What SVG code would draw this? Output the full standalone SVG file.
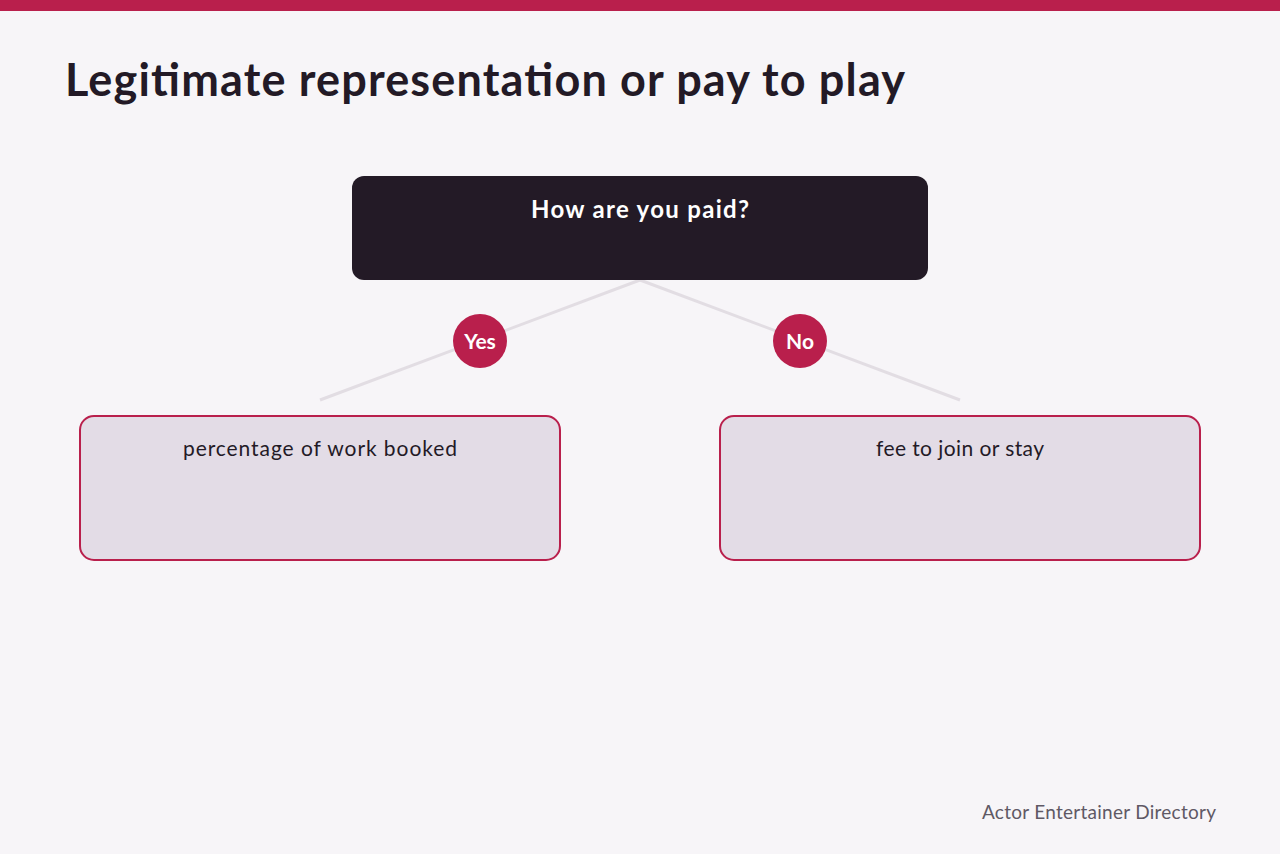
<svg xmlns="http://www.w3.org/2000/svg" width="1280" height="854" viewBox="0 0 1280 854">
<style>
.title{font-family:Lato,"Noto Sans",sans-serif;font-weight:700;font-size:45px;fill:#231a26}
.q{font-family:Lato,"Noto Sans",sans-serif;font-weight:700;font-size:24px;fill:#ffffff}
.badge{fill:#b91f4c}
.badgetxt{font-family:Lato,"Noto Sans",sans-serif;font-weight:700;font-size:21px;fill:#ffffff}
.ans{fill:#e3dce6;stroke:#b91f4c;stroke-width:2}
.anstxt{font-family:Lato,"Noto Sans",sans-serif;font-size:21px;fill:#231a26}
.conn{stroke:#e2dde3;stroke-width:3;fill:none}
.foot{font-family:Lato,"Noto Sans",sans-serif;font-size:19px;fill:#5f5965}
</style>
<rect x="0" y="0" width="1280" height="854" fill="#f7f5f8"/>
<rect x="0" y="0" width="1280" height="11" fill="#b91f4c"/>
<text class="title" x="65" y="96" textLength="840" lengthAdjust="spacing">Legitimate representation or pay to play</text>
<g id="connectors">
<line class="conn" x1="640" y1="280" x2="320" y2="400"/>
<line class="conn" x1="640" y1="280" x2="960" y2="400"/>
</g>
<g id="question">
<rect x="352" y="176" width="576" height="104" rx="12" fill="#231a26"/>
<text class="q" x="531" y="218" textLength="218" lengthAdjust="spacing">How are you paid?</text>
</g>
<g id="label-yes">
<circle class="badge" cx="480" cy="341" r="27"/>
<text class="badgetxt" x="480" y="348.5" text-anchor="middle">Yes</text>
</g>
<g id="label-no">
<circle class="badge" cx="800" cy="341" r="27"/>
<text class="badgetxt" x="800" y="348.5" text-anchor="middle">No</text>
</g>
<g id="answer-yes">
<rect class="ans" x="80" y="416" width="480" height="144" rx="14"/>
<text class="anstxt" x="183" y="456" textLength="274" lengthAdjust="spacing">percentage of work booked</text>
</g>
<g id="answer-no">
<rect class="ans" x="720" y="416" width="480" height="144" rx="14"/>
<text class="anstxt" x="876" y="456" textLength="168" lengthAdjust="spacing">fee to join or stay</text>
</g>
<text class="foot" x="982" y="819" textLength="234" lengthAdjust="spacing">Actor Entertainer Directory</text>
</svg>
